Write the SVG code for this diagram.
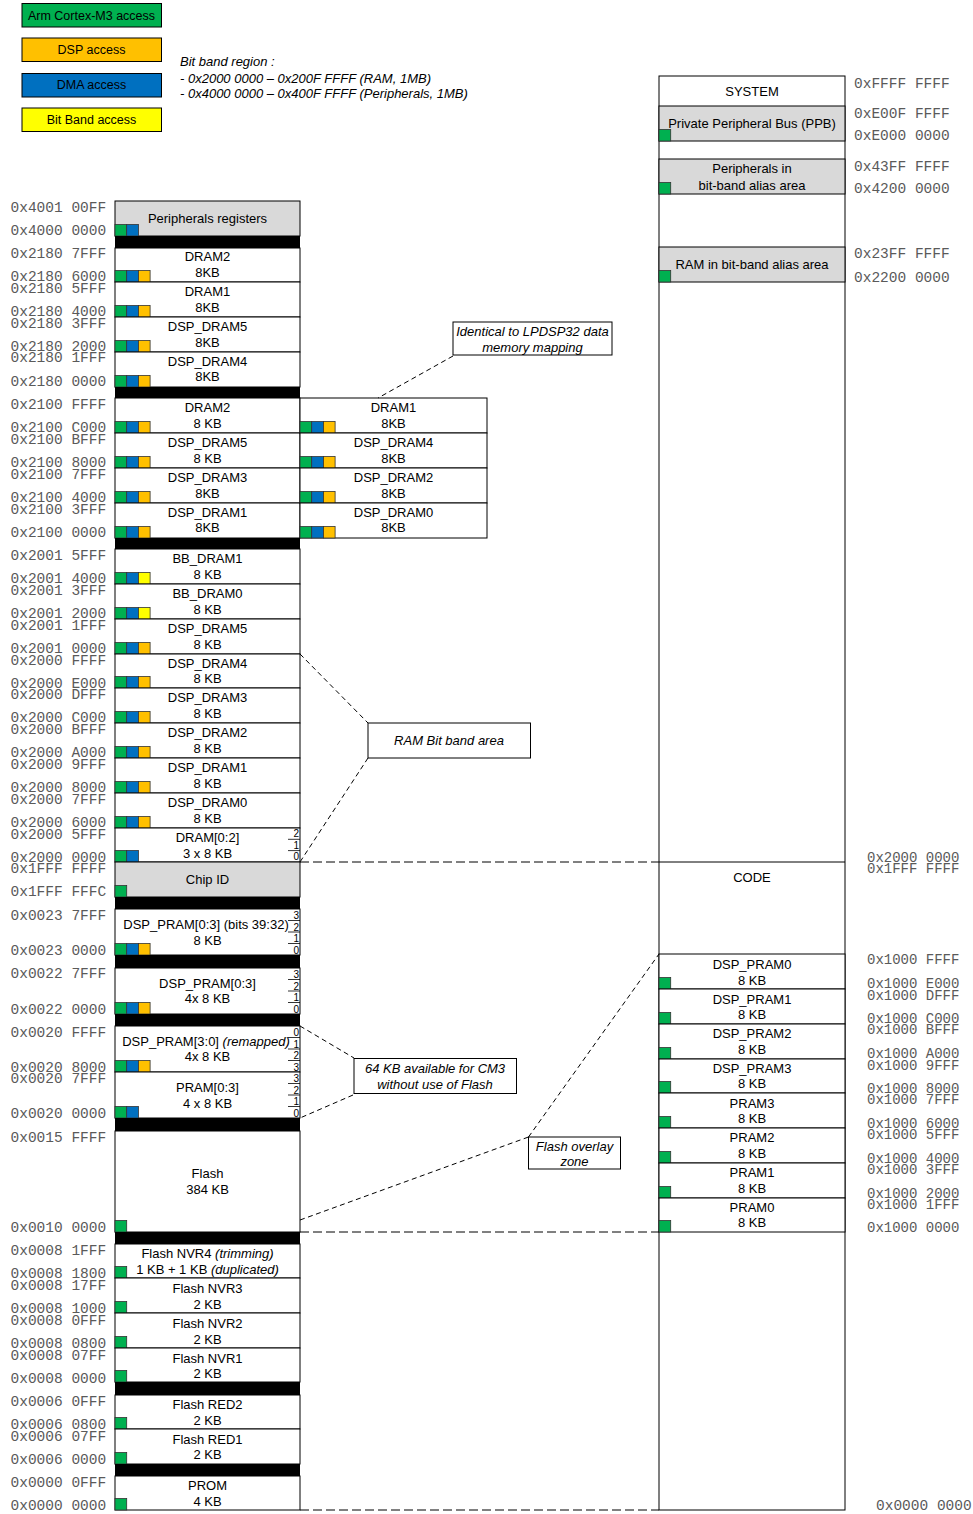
<svg xmlns="http://www.w3.org/2000/svg" xmlns:xlink="http://www.w3.org/1999/xlink" width="973" height="1514" viewBox="0 0 973 1514">
<style>
  .addr { font-family: "Liberation Mono", "Courier New", monospace; font-size: 14.5px; fill: #5a5a5a; }
  .addrs { font-family: "Liberation Mono", "Courier New", monospace; font-size: 14px; fill: #5a5a5a; }
  .lbl { font-family: "Liberation Sans", Arial, sans-serif; font-size: 13px; fill: #000; text-anchor: middle; }
  .note { font-family: "Liberation Sans", Arial, sans-serif; font-size: 13px; fill: #000; font-style: italic; }
  .it { font-style: italic; }
  .cell { fill: #ffffff; stroke: #000; stroke-width: 1; }
  .gray { fill: #d9d9d9; stroke: #000; stroke-width: 1; }
  .bar { fill: #000; }
  .box { fill: #ffffff; stroke: #000; stroke-width: 1; }
  .sq { stroke: #333; stroke-width: 0.8; }
  .g { fill: #00B050; }
  .b { fill: #0070C0; }
  .o { fill: #FFC000; }
  .y { fill: #FFFF00; }
  .bit { font-family: "Liberation Sans", Arial, sans-serif; font-size: 10px; fill: #000; text-anchor: end; }
  .tick { stroke: #000; stroke-width: 0.8; }
  .dash { stroke: #000; stroke-width: 1; fill: none; stroke-dasharray: 5 3.5; }
  .dashh { stroke: #000; stroke-width: 1; fill: none; stroke-dasharray: 9 4; }
</style>
<defs>
  <!-- access squares: green = Cortex-M3, blue = DMA, orange = DSP, yellow = bit band -->
  <g id="acc-g"><rect class="sq g" x="0" y="0" width="11.7" height="11.5"/></g>
  <g id="acc-gb"><rect class="sq g" x="0" y="0" width="11.7" height="11.5"/><rect class="sq b" x="11.7" y="0" width="11.7" height="11.5"/></g>
  <g id="acc-gbo"><rect class="sq g" x="0" y="0" width="11.7" height="11.5"/><rect class="sq b" x="11.7" y="0" width="11.7" height="11.5"/><rect class="sq o" x="23.4" y="0" width="11.7" height="11.5"/></g>
  <g id="acc-gby"><rect class="sq g" x="0" y="0" width="11.7" height="11.5"/><rect class="sq b" x="11.7" y="0" width="11.7" height="11.5"/><rect class="sq y" x="23.4" y="0" width="11.7" height="11.5"/></g>
  <!-- bank index ticks -->
  <g id="tick4"><line class="tick" x1="288" y1="11.5" x2="300" y2="11.5"/><line class="tick" x1="288" y1="23" x2="300" y2="23"/><line class="tick" x1="288" y1="34.5" x2="300" y2="34.5"/></g>
  <g id="tick3"><line class="tick" x1="288" y1="11.3" x2="300" y2="11.3"/><line class="tick" x1="288" y1="22.6" x2="300" y2="22.6"/></g>
</defs>

<!-- legend -->
<g id="legend">
  <g id="legend-cm3"><rect x="22" y="3.5" width="139.5" height="23.5" fill="#00B050" stroke="#000"/><text class="lbl" x="91.5" y="19.6" style="font-size:12.5px">Arm Cortex-M3 access</text></g>
  <g id="legend-dsp"><rect x="22" y="38" width="139.5" height="23.5" fill="#FFC000" stroke="#000"/><text class="lbl" x="91.5" y="53.9" style="font-size:12.5px">DSP access</text></g>
  <g id="legend-dma"><rect x="22" y="73.5" width="139.5" height="23.5" fill="#0070C0" stroke="#000"/><text class="lbl" x="91.5" y="88.9" style="font-size:12.5px">DMA access</text></g>
  <g id="legend-bb"><rect x="22" y="108" width="139.5" height="23.5" fill="#FFFF00" stroke="#000"/><text class="lbl" x="91.5" y="123.6" style="font-size:12.5px">Bit Band access</text></g>
</g>

<g id="bitband-note">
  <text class="note" x="180" y="66">Bit band region :</text>
  <text class="note" x="180" y="82.5">- 0x2000 0000 – 0x200F FFFF (RAM, 1MB)</text>
  <text class="note" x="180" y="97.5">- 0x4000 0000 – 0x400F FFFF (Peripherals, 1MB)</text>
</g>

<!-- left memory column -->
<g id="periph-regs"><rect class="gray" x="115" y="201" width="185" height="35"/><text class="lbl" x="207.5" y="222.6">Peripherals registers</text><use href="#acc-gb" x="115" y="224.5"/></g>
<rect class="bar" x="115" y="236" width="185" height="12"/>

<g id="r-dram2-a"><rect class="cell" x="115" y="248" width="185" height="34"/><text class="lbl" x="207.5" y="260.6">DRAM2</text><text class="lbl" x="207.5" y="276.6">8KB</text><use href="#acc-gbo" x="115" y="270.5"/></g>
<g id="r-dram1-a"><rect class="cell" x="115" y="282" width="185" height="35"/><text class="lbl" x="207.5" y="295.6">DRAM1</text><text class="lbl" x="207.5" y="311.6">8KB</text><use href="#acc-gbo" x="115" y="305.5"/></g>
<g id="r-dspdram5-a"><rect class="cell" x="115" y="317" width="185" height="35"/><text class="lbl" x="207.5" y="330.6">DSP_DRAM5</text><text class="lbl" x="207.5" y="346.6">8KB</text><use href="#acc-gbo" x="115" y="340.5"/></g>
<g id="r-dspdram4-a"><rect class="cell" x="115" y="352" width="185" height="35"/><text class="lbl" x="207.5" y="365.6">DSP_DRAM4</text><text class="lbl" x="207.5" y="380.6">8KB</text><use href="#acc-gbo" x="115" y="375.5"/></g>
<rect class="bar" x="115" y="387" width="185" height="11"/>

<g id="r-dram2-b"><rect class="cell" x="115" y="398" width="185" height="35"/><text class="lbl" x="207.5" y="411.6">DRAM2</text><text class="lbl" x="207.5" y="427.6">8 KB</text><use href="#acc-gbo" x="115" y="421.5"/></g>
<g id="r-dspdram5-b"><rect class="cell" x="115" y="433" width="185" height="35"/><text class="lbl" x="207.5" y="446.6">DSP_DRAM5</text><text class="lbl" x="207.5" y="462.6">8 KB</text><use href="#acc-gbo" x="115" y="456.5"/></g>
<g id="r-dspdram3-b"><rect class="cell" x="115" y="468" width="185" height="35"/><text class="lbl" x="207.5" y="481.6">DSP_DRAM3</text><text class="lbl" x="207.5" y="497.6">8KB</text><use href="#acc-gbo" x="115" y="491.5"/></g>
<g id="r-dspdram1-b"><rect class="cell" x="115" y="503" width="185" height="35"/><text class="lbl" x="207.5" y="516.6">DSP_DRAM1</text><text class="lbl" x="207.5" y="531.6">8KB</text><use href="#acc-gbo" x="115" y="526.5"/></g>

<g id="r-dram1-c"><rect class="cell" x="300" y="398" width="187" height="35"/><text class="lbl" x="393.5" y="411.6">DRAM1</text><text class="lbl" x="393.5" y="427.6">8KB</text><use href="#acc-gbo" x="300" y="421.5"/></g>
<g id="r-dspdram4-c"><rect class="cell" x="300" y="433" width="187" height="35"/><text class="lbl" x="393.5" y="446.6">DSP_DRAM4</text><text class="lbl" x="393.5" y="462.6">8KB</text><use href="#acc-gbo" x="300" y="456.5"/></g>
<g id="r-dspdram2-c"><rect class="cell" x="300" y="468" width="187" height="35"/><text class="lbl" x="393.5" y="481.6">DSP_DRAM2</text><text class="lbl" x="393.5" y="497.6">8KB</text><use href="#acc-gbo" x="300" y="491.5"/></g>
<g id="r-dspdram0-c"><rect class="cell" x="300" y="503" width="187" height="35"/><text class="lbl" x="393.5" y="516.6">DSP_DRAM0</text><text class="lbl" x="393.5" y="531.6">8KB</text><use href="#acc-gbo" x="300" y="526.5"/></g>
<rect class="bar" x="115" y="538" width="185" height="11"/>

<g id="r-bbdram1"><rect class="cell" x="115" y="549" width="185" height="35"/><text class="lbl" x="207.5" y="562.6">BB_DRAM1</text><text class="lbl" x="207.5" y="578.6">8 KB</text><use href="#acc-gby" x="115" y="572.5"/></g>
<g id="r-bbdram0"><rect class="cell" x="115" y="584" width="185" height="35"/><text class="lbl" x="207.5" y="597.6">BB_DRAM0</text><text class="lbl" x="207.5" y="613.6">8 KB</text><use href="#acc-gby" x="115" y="607.5"/></g>
<g id="r-dspdram5-d"><rect class="cell" x="115" y="619" width="185" height="35"/><text class="lbl" x="207.5" y="632.6">DSP_DRAM5</text><text class="lbl" x="207.5" y="648.6">8 KB</text><use href="#acc-gbo" x="115" y="642.5"/></g>
<g id="r-dspdram4-d"><rect class="cell" x="115" y="654" width="185" height="34"/><text class="lbl" x="207.5" y="667.6">DSP_DRAM4</text><text class="lbl" x="207.5" y="682.6">8 KB</text><use href="#acc-gbo" x="115" y="676.5"/></g>
<g id="r-dspdram3-d"><rect class="cell" x="115" y="688" width="185" height="35"/><text class="lbl" x="207.5" y="701.6">DSP_DRAM3</text><text class="lbl" x="207.5" y="717.6">8 KB</text><use href="#acc-gbo" x="115" y="711.5"/></g>
<g id="r-dspdram2-d"><rect class="cell" x="115" y="723" width="185" height="35"/><text class="lbl" x="207.5" y="736.6">DSP_DRAM2</text><text class="lbl" x="207.5" y="752.6">8 KB</text><use href="#acc-gbo" x="115" y="746.5"/></g>
<g id="r-dspdram1-d"><rect class="cell" x="115" y="758" width="185" height="35"/><text class="lbl" x="207.5" y="771.6">DSP_DRAM1</text><text class="lbl" x="207.5" y="787.6">8 KB</text><use href="#acc-gbo" x="115" y="781.5"/></g>
<g id="r-dspdram0-d"><rect class="cell" x="115" y="793" width="185" height="35"/><text class="lbl" x="207.5" y="806.6">DSP_DRAM0</text><text class="lbl" x="207.5" y="822.6">8 KB</text><use href="#acc-gbo" x="115" y="816.5"/></g>
<g id="r-dram02"><rect class="cell" x="115" y="828" width="185" height="34"/><text class="lbl" x="207.5" y="841.6">DRAM[0:2]</text><text class="lbl" x="207.5" y="857.6">3 x 8 KB</text><use href="#acc-gb" x="115" y="850.5"/>
  <use href="#tick3" x="0" y="828"/><text class="bit" x="299" y="837">2</text><text class="bit" x="299" y="848.5">1</text><text class="bit" x="299" y="860">0</text></g>

<g id="r-chipid"><rect class="gray" x="115" y="862" width="185" height="35"/><text class="lbl" x="207.5" y="883.6">Chip ID</text><use href="#acc-g" x="115" y="885.5"/></g>
<rect class="bar" x="115" y="897" width="185" height="12"/>

<g id="r-dsppram-bits"><rect class="cell" x="115" y="909" width="185" height="46"/><text class="lbl" x="206" y="928.6">DSP_PRAM[0:3] (bits 39:32)</text><text class="lbl" x="207.5" y="944.6">8 KB</text><use href="#acc-gbo" x="115" y="943.5"/>
  <use href="#tick4" x="0" y="909"/><text class="bit" x="299" y="919">3</text><text class="bit" x="299" y="930.5">2</text><text class="bit" x="299" y="942">1</text><text class="bit" x="299" y="953.5">0</text></g>
<rect class="bar" x="115" y="955" width="185" height="13"/>

<g id="r-dsppram"><rect class="cell" x="115" y="968" width="185" height="46"/><text class="lbl" x="207.5" y="987.6">DSP_PRAM[0:3]</text><text class="lbl" x="207.5" y="1002.6">4x 8 KB</text><use href="#acc-gbo" x="115" y="1002.5"/>
  <use href="#tick4" x="0" y="968"/><text class="bit" x="299" y="978">3</text><text class="bit" x="299" y="989.5">2</text><text class="bit" x="299" y="1001">1</text><text class="bit" x="299" y="1012.5">0</text></g>
<rect class="bar" x="115" y="1014" width="185" height="12"/>

<g id="r-dsppram-remap"><rect class="cell" x="115" y="1026" width="185" height="46"/><text class="lbl" x="206" y="1045.6">DSP_PRAM[3:0] <tspan class="it">(remapped)</tspan></text><text class="lbl" x="207.5" y="1060.6">4x 8 KB</text><use href="#acc-gbo" x="115" y="1060.5"/>
  <use href="#tick4" x="0" y="1026"/><text class="bit" x="299" y="1036">0</text><text class="bit" x="299" y="1047.5">1</text><text class="bit" x="299" y="1059">2</text><text class="bit" x="299" y="1070.5">3</text></g>
<g id="r-pram"><rect class="cell" x="115" y="1072" width="185" height="46"/><text class="lbl" x="207.5" y="1091.6">PRAM[0:3]</text><text class="lbl" x="207.5" y="1107.6">4 x 8 KB</text><use href="#acc-gb" x="115" y="1106.5"/>
  <use href="#tick4" x="0" y="1072"/><text class="bit" x="299" y="1082">3</text><text class="bit" x="299" y="1093.5">2</text><text class="bit" x="299" y="1105">1</text><text class="bit" x="299" y="1116.5">0</text></g>
<rect class="bar" x="115" y="1118" width="185" height="13"/>

<g id="r-flash"><rect class="cell" x="115" y="1131" width="185" height="101"/><text class="lbl" x="207.5" y="1177.6">Flash</text><text class="lbl" x="207.5" y="1193.6">384 KB</text><use href="#acc-g" x="115" y="1220.5"/></g>
<rect class="bar" x="115" y="1232" width="185" height="12"/>

<g id="r-nvr4"><rect class="cell" x="115" y="1244" width="185" height="34"/><text class="lbl" x="207.5" y="1257.6">Flash NVR4 <tspan class="it">(trimming)</tspan></text><text class="lbl" x="207.5" y="1273.6">1 KB + 1 KB <tspan class="it">(duplicated)</tspan></text><use href="#acc-g" x="115" y="1266.5"/></g>
<g id="r-nvr3"><rect class="cell" x="115" y="1278" width="185" height="35"/><text class="lbl" x="207.5" y="1292.6">Flash NVR3</text><text class="lbl" x="207.5" y="1308.6">2 KB</text><use href="#acc-g" x="115" y="1301.5"/></g>
<g id="r-nvr2"><rect class="cell" x="115" y="1313" width="185" height="35"/><text class="lbl" x="207.5" y="1327.6">Flash NVR2</text><text class="lbl" x="207.5" y="1343.6">2 KB</text><use href="#acc-g" x="115" y="1336.5"/></g>
<g id="r-nvr1"><rect class="cell" x="115" y="1348" width="185" height="34"/><text class="lbl" x="207.5" y="1362.6">Flash NVR1</text><text class="lbl" x="207.5" y="1377.6">2 KB</text><use href="#acc-g" x="115" y="1370.5"/></g>
<rect class="bar" x="115" y="1382" width="185" height="13"/>

<g id="r-red2"><rect class="cell" x="115" y="1395" width="185" height="34"/><text class="lbl" x="207.5" y="1408.6">Flash RED2</text><text class="lbl" x="207.5" y="1424.6">2 KB</text><use href="#acc-g" x="115" y="1417.5"/></g>
<g id="r-red1"><rect class="cell" x="115" y="1429" width="185" height="35"/><text class="lbl" x="207.5" y="1443.6">Flash RED1</text><text class="lbl" x="207.5" y="1458.6">2 KB</text><use href="#acc-g" x="115" y="1452.5"/></g>
<rect class="bar" x="115" y="1464" width="185" height="12"/>
<g id="r-prom"><rect class="cell" x="115" y="1476" width="185" height="34"/><text class="lbl" x="207.5" y="1489.6">PROM</text><text class="lbl" x="207.5" y="1505.6">4 KB</text><use href="#acc-g" x="115" y="1498.5"/></g>

<!-- left address labels -->
<g id="addr-left" class="addr">
  <text x="10.5" y="212">0x4001 00FF</text>
  <text x="10.5" y="235">0x4000 0000</text>
  <text x="10.5" y="258">0x2180 7FFF</text>
  <text x="10.5" y="281">0x2180 6000</text>
  <text x="10.5" y="293">0x2180 5FFF</text>
  <text x="10.5" y="316">0x2180 4000</text>
  <text x="10.5" y="328">0x2180 3FFF</text>
  <text x="10.5" y="351">0x2180 2000</text>
  <text x="10.5" y="362">0x2180 1FFF</text>
  <text x="10.5" y="386">0x2180 0000</text>
  <text x="10.5" y="409">0x2100 FFFF</text>
  <text x="10.5" y="432">0x2100 C000</text>
  <text x="10.5" y="444">0x2100 BFFF</text>
  <text x="10.5" y="467">0x2100 8000</text>
  <text x="10.5" y="479">0x2100 7FFF</text>
  <text x="10.5" y="502">0x2100 4000</text>
  <text x="10.5" y="514">0x2100 3FFF</text>
  <text x="10.5" y="537">0x2100 0000</text>
  <text x="10.5" y="560">0x2001 5FFF</text>
  <text x="10.5" y="583">0x2001 4000</text>
  <text x="10.5" y="595">0x2001 3FFF</text>
  <text x="10.5" y="618">0x2001 2000</text>
  <text x="10.5" y="630">0x2001 1FFF</text>
  <text x="10.5" y="653">0x2001 0000</text>
  <text x="10.5" y="665">0x2000 FFFF</text>
  <text x="10.5" y="688">0x2000 E000</text>
  <text x="10.5" y="699">0x2000 DFFF</text>
  <text x="10.5" y="722">0x2000 C000</text>
  <text x="10.5" y="734">0x2000 BFFF</text>
  <text x="10.5" y="757">0x2000 A000</text>
  <text x="10.5" y="769">0x2000 9FFF</text>
  <text x="10.5" y="792">0x2000 8000</text>
  <text x="10.5" y="804">0x2000 7FFF</text>
  <text x="10.5" y="827">0x2000 6000</text>
  <text x="10.5" y="839">0x2000 5FFF</text>
  <text x="10.5" y="862">0x2000 0000</text>
  <text x="10.5" y="873">0x1FFF FFFF</text>
  <text x="10.5" y="896">0x1FFF FFFC</text>
  <text x="10.5" y="920">0x0023 7FFF</text>
  <text x="10.5" y="955">0x0023 0000</text>
  <text x="10.5" y="978">0x0022 7FFF</text>
  <text x="10.5" y="1014">0x0022 0000</text>
  <text x="10.5" y="1037">0x0020 FFFF</text>
  <text x="10.5" y="1072">0x0020 8000</text>
  <text x="10.5" y="1083">0x0020 7FFF</text>
  <text x="10.5" y="1118">0x0020 0000</text>
  <text x="10.5" y="1142">0x0015 FFFF</text>
  <text x="10.5" y="1232">0x0010 0000</text>
  <text x="10.5" y="1255">0x0008 1FFF</text>
  <text x="10.5" y="1278">0x0008 1800</text>
  <text x="10.5" y="1290">0x0008 17FF</text>
  <text x="10.5" y="1313">0x0008 1000</text>
  <text x="10.5" y="1325">0x0008 0FFF</text>
  <text x="10.5" y="1348">0x0008 0800</text>
  <text x="10.5" y="1360">0x0008 07FF</text>
  <text x="10.5" y="1383">0x0008 0000</text>
  <text x="10.5" y="1406">0x0006 0FFF</text>
  <text x="10.5" y="1429">0x0006 0800</text>
  <text x="10.5" y="1441">0x0006 07FF</text>
  <text x="10.5" y="1464">0x0006 0000</text>
  <text x="10.5" y="1487">0x0000 0FFF</text>
  <text x="10.5" y="1510">0x0000 0000</text>
</g>

<!-- right memory column (Cortex-M3 view) -->
<g id="cm3-map">
  <rect class="cell" x="659" y="76" width="186" height="1434"/>
  <text class="lbl" x="752" y="95.6">SYSTEM</text>
  <text class="lbl" x="752" y="881.6">CODE</text>
  <line x1="659" y1="862" x2="845" y2="862" stroke="#000"/>
</g>
<g id="m-ppb"><rect class="gray" x="659" y="106" width="186" height="35"/><text class="lbl" x="752" y="127.6">Private Peripheral Bus (PPB)</text><use href="#acc-g" x="659" y="129.5"/></g>
<g id="m-periph-alias"><rect class="gray" x="659" y="159" width="186" height="35"/><text class="lbl" x="752" y="172.6">Peripherals in</text><text class="lbl" x="752" y="189.6">bit-band alias area</text><use href="#acc-g" x="659" y="182.5"/></g>
<g id="m-ram-alias"><rect class="gray" x="659" y="247" width="186" height="35"/><text class="lbl" x="752" y="268.6">RAM in bit-band alias area</text><use href="#acc-g" x="659" y="270.5"/></g>
<g id="m-dsppram0"><rect class="cell" x="659" y="954" width="186" height="35"/><text class="lbl" x="752" y="968.6">DSP_PRAM0</text><text class="lbl" x="752" y="984.6">8 KB</text><use href="#acc-g" x="659" y="977.5"/></g>
<g id="m-dsppram1"><rect class="cell" x="659" y="989" width="186" height="35"/><text class="lbl" x="752" y="1003.6">DSP_PRAM1</text><text class="lbl" x="752" y="1018.6">8 KB</text><use href="#acc-g" x="659" y="1012.5"/></g>
<g id="m-dsppram2"><rect class="cell" x="659" y="1024" width="186" height="35"/><text class="lbl" x="752" y="1037.6">DSP_PRAM2</text><text class="lbl" x="752" y="1053.6">8 KB</text><use href="#acc-g" x="659" y="1047.5"/></g>
<g id="m-dsppram3"><rect class="cell" x="659" y="1059" width="186" height="34"/><text class="lbl" x="752" y="1072.6">DSP_PRAM3</text><text class="lbl" x="752" y="1087.6">8 KB</text><use href="#acc-g" x="659" y="1081.5"/></g>
<g id="m-pram3"><rect class="cell" x="659" y="1093" width="186" height="35"/><text class="lbl" x="752" y="1107.6">PRAM3</text><text class="lbl" x="752" y="1122.6">8 KB</text><use href="#acc-g" x="659" y="1116.5"/></g>
<g id="m-pram2"><rect class="cell" x="659" y="1128" width="186" height="35"/><text class="lbl" x="752" y="1141.6">PRAM2</text><text class="lbl" x="752" y="1157.6">8 KB</text><use href="#acc-g" x="659" y="1151.5"/></g>
<g id="m-pram1"><rect class="cell" x="659" y="1163" width="186" height="35"/><text class="lbl" x="752" y="1176.6">PRAM1</text><text class="lbl" x="752" y="1192.6">8 KB</text><use href="#acc-g" x="659" y="1186.5"/></g>
<g id="m-pram0"><rect class="cell" x="659" y="1198" width="186" height="34"/><text class="lbl" x="752" y="1211.6">PRAM0</text><text class="lbl" x="752" y="1226.6">8 KB</text><use href="#acc-g" x="659" y="1220.5"/></g>

<!-- right address labels -->
<g id="addr-right-top" class="addr">
  <text x="854" y="88">0xFFFF FFFF</text>
  <text x="854" y="117.5">0xE00F FFFF</text>
  <text x="854" y="140">0xE000 0000</text>
  <text x="854" y="171">0x43FF FFFF</text>
  <text x="854" y="193">0x4200 0000</text>
  <text x="854" y="257.5">0x23FF FFFF</text>
  <text x="854" y="281.5">0x2200 0000</text>
</g>
<g id="addr-right-code" class="addrs">
  <text x="867" y="861.5">0x2000 0000</text>
  <text x="867" y="873">0x1FFF FFFF</text>
  <text x="867" y="963.5">0x1000 FFFF</text>
  <text x="867" y="987.5">0x1000 E000</text>
  <text x="867" y="999.5">0x1000 DFFF</text>
  <text x="867" y="1022.5">0x1000 C000</text>
  <text x="867" y="1033.5">0x1000 BFFF</text>
  <text x="867" y="1057.5">0x1000 A000</text>
  <text x="867" y="1069.5">0x1000 9FFF</text>
  <text x="867" y="1092.5">0x1000 8000</text>
  <text x="867" y="1103.5">0x1000 7FFF</text>
  <text x="867" y="1127.5">0x1000 6000</text>
  <text x="867" y="1138.5">0x1000 5FFF</text>
  <text x="867" y="1162.5">0x1000 4000</text>
  <text x="867" y="1173.5">0x1000 3FFF</text>
  <text x="867" y="1197.5">0x1000 2000</text>
  <text x="867" y="1208.5">0x1000 1FFF</text>
  <text x="867" y="1231.5">0x1000 0000</text>
</g>
<text class="addr" x="876" y="1510">0x0000 0000</text>

<!-- callouts -->
<g id="c-lpdsp32"><rect class="box" x="453" y="322" width="159" height="33"/><text class="note" x="532.5" y="336" text-anchor="middle">Identical to LPDSP32 data</text><text class="note" x="532.5" y="351.5" text-anchor="middle">memory mapping</text></g>
<g id="c-rambb"><rect class="box" x="368" y="723" width="162.5" height="35"/><text class="note" x="449" y="744.6" text-anchor="middle">RAM Bit band area</text></g>
<g id="c-64kb"><rect class="box" x="354" y="1058.5" width="162.5" height="35"/><text class="note" x="435" y="1072.8" text-anchor="middle">64 KB available for CM3</text><text class="note" x="435" y="1088.5" text-anchor="middle">without use of Flash</text></g>
<g id="c-overlay"><rect class="box" x="528.5" y="1137" width="92" height="32"/><text class="note" x="574.5" y="1150.5" text-anchor="middle">Flash overlay</text><text class="note" x="574.5" y="1166" text-anchor="middle">zone</text></g>

<!-- connectors -->
<g id="connectors">
  <line class="dash" x1="453" y1="356" x2="378" y2="398"/>
  <line class="dash" x1="300" y1="654" x2="368" y2="723"/>
  <line class="dash" x1="368" y1="758" x2="300" y2="862"/>
  <line class="dash" x1="300" y1="1026" x2="354" y2="1058"/>
  <line class="dash" x1="353" y1="1095" x2="300" y2="1118"/>
  <line class="dash" x1="300" y1="1220" x2="528.5" y2="1137"/>
  <line class="dash" x1="528.5" y1="1137" x2="659" y2="954"/>
  <line class="dashh" x1="300" y1="862" x2="659" y2="862"/>
  <line class="dashh" x1="300" y1="1232" x2="659" y2="1232"/>
  <line class="dashh" x1="300" y1="1510" x2="659" y2="1510"/>
</g>
</svg>
